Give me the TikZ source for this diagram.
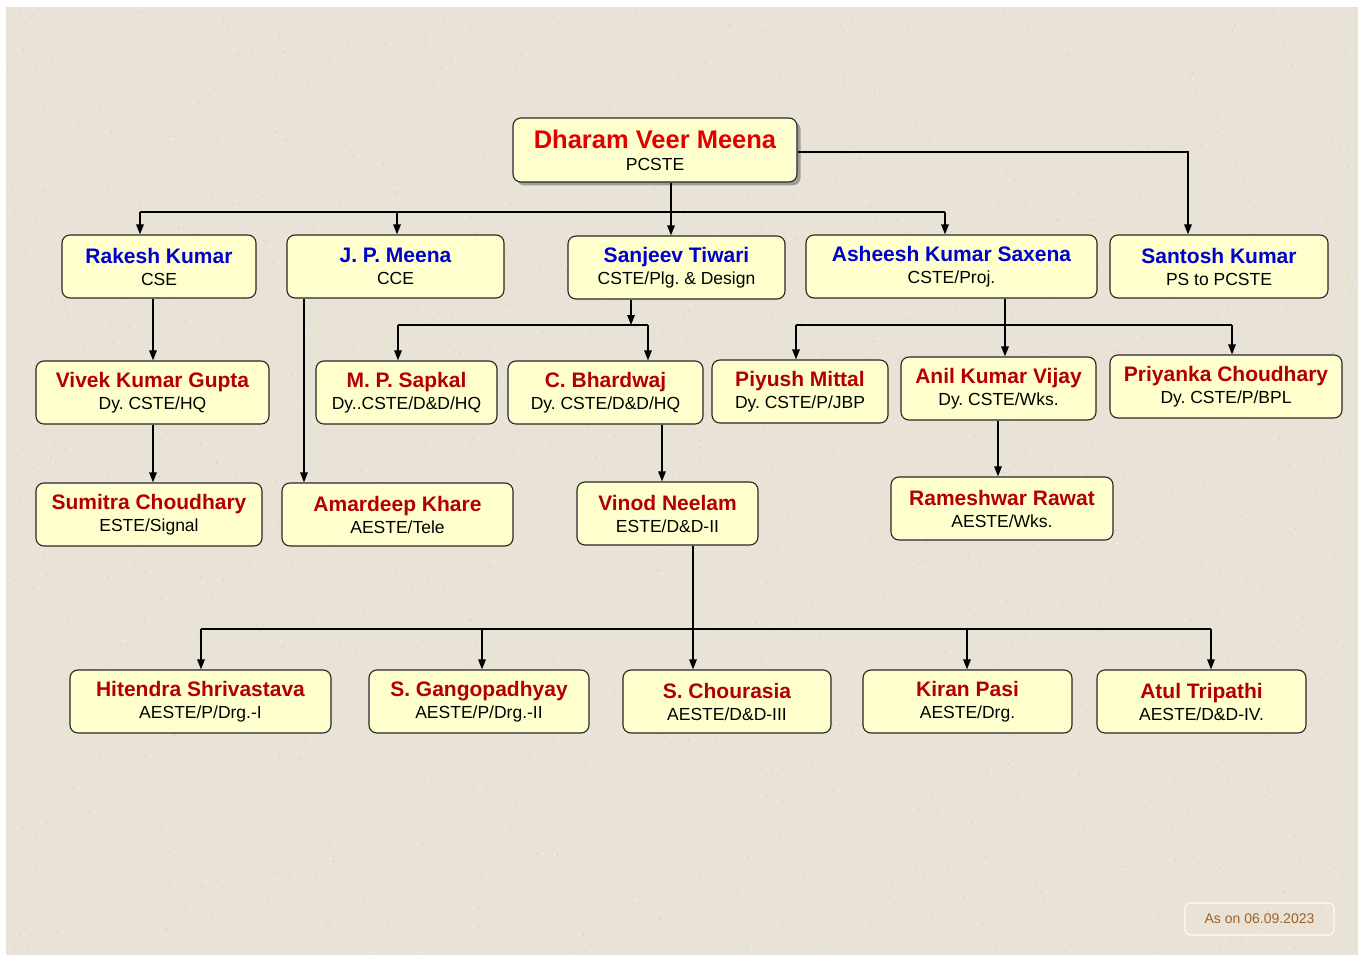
\documentclass[tikz,border=0pt]{standalone}
\usepackage{fontspec}
\setmainfont{Liberation Sans}
\usetikzlibrary{arrows.meta,shadows}
\definecolor{bgc}{RGB}{232,226,215}
\definecolor{bgdark}{RGB}{196,188,174}
\definecolor{boxfill}{RGB}{255,255,206}
\definecolor{nblue}{RGB}{0,0,204}
\definecolor{nred}{RGB}{178,0,0}
\definecolor{dvred}{RGB}{224,0,0}
\definecolor{datec}{RGB}{165,95,35}
\newcommand{\nmb}[1]{{\fontsize{21}{21}\selectfont\bfseries\color{nblue}#1}}
\newcommand{\nmr}[1]{{\fontsize{21}{21}\selectfont\bfseries\color{nred}#1}}
\tikzset{
  box/.style={draw=black!85, line width=1.1pt, fill=boxfill, rounded corners=8pt,
    minimum height=63pt, inner sep=0pt, align=center,
    font=\fontsize{17.5}{22}\selectfont\frenchspacing},
  conn/.style={line width=1.4pt, black},
  arr/.style={conn, -{Triangle[length=10pt,width=7.5pt]}},
}
\begin{document}
\frenchspacing
\begin{tikzpicture}[x=1pt,y=-1pt]
\useasboundingbox (0,0) rectangle (1358,955);
\fill[white] (0,0) rectangle (1358,955);
\fill[bgc] (6,7) rectangle (1358,955);
\pgfmathsetseed{11}
\foreach \i in {1,...,1400}{
  \pgfmathsetmacro{\px}{8+1348*rnd}
  \pgfmathsetmacro{\py}{9+944*rnd}
  \fill[bgdark,opacity=0.45] (\px,\py) circle (0.9);
}
\foreach \i in {1,...,900}{
  \pgfmathsetmacro{\px}{8+1348*rnd}
  \pgfmathsetmacro{\py}{9+944*rnd}
  \fill[white,opacity=0.5] (\px,\py) circle (1.0);
}

% top
\node[box, minimum width=284pt, minimum height=64pt,
  drop shadow={shadow xshift=3.5pt, shadow yshift=-3.5pt, fill=black!50, opacity=0.7}]
  (dv) at (655,150) {{\fontsize{25.5}{25.5}\selectfont\bfseries\color{dvred}Dharam Veer Meena}\\PCSTE};

% row 1
\node[box, minimum width=194pt] (rk) at (159,266.5) {\nmb{Rakesh Kumar}\\CSE};
\node[box, minimum width=217pt] (jp) at (395.5,266.5) {\nmb{J. P. Meena}\\CCE};
\node[box, minimum width=217pt] (sj) at (676.5,267.5) {\nmb{Sanjeev Tiwari}\\CSTE/Plg. \& Design};
\node[box, minimum width=291pt] (as) at (951.5,266.5) {\nmb{Asheesh Kumar Saxena}\\CSTE/Proj.};
\node[box, minimum width=218pt] (sk) at (1219,266.5) {\nmb{Santosh Kumar}\\PS to PCSTE};

% row 2
\node[box, minimum width=233pt] (vk) at (152.5,392.5) {\nmr{Vivek Kumar Gupta}\\Dy. CSTE/HQ};
\node[box, minimum width=181pt] (mp) at (406.5,392.5) {\nmr{M. P. Sapkal}\\Dy..CSTE/D\&D/HQ};
\node[box, minimum width=195pt] (cb) at (605.5,392.5) {\nmr{C. Bhardwaj}\\Dy. CSTE/D\&D/HQ};
\node[box, minimum width=176pt] (pm) at (800,391.5) {\nmr{Piyush Mittal}\\Dy. CSTE/P/JBP};
\node[box, minimum width=195pt] (av) at (998.5,388.5) {\nmr{Anil Kumar Vijay}\\Dy. CSTE/Wks.};
\node[box, minimum width=232pt] (pc) at (1226,386.5) {\nmr{Priyanka Choudhary}\\Dy. CSTE/P/BPL};

% row 3
\node[box, minimum width=226pt] (sc) at (149,514.5) {\nmr{Sumitra Choudhary}\\ESTE/Signal};
\node[box, minimum width=231pt] (ak) at (397.5,514.5) {\nmr{Amardeep Khare}\\AESTE/Tele};
\node[box, minimum width=181pt] (vn) at (667.5,513.5) {\nmr{Vinod Neelam}\\ESTE/D\&D-II};
\node[box, minimum width=222pt] (rr) at (1002,508.5) {\nmr{Rameshwar Rawat}\\AESTE/Wks.};

% row 4
\node[box, minimum width=261pt] (hs) at (200.5,701.5) {\nmr{Hitendra Shrivastava}\\AESTE/P/Drg.-I};
\node[box, minimum width=220pt] (sg) at (479,701.5) {\nmr{S. Gangopadhyay}\\AESTE/P/Drg.-II};
\node[box, minimum width=208pt] (ch) at (727,701.5) {\nmr{S. Chourasia}\\AESTE/D\&D-III};
\node[box, minimum width=209pt] (kp) at (967.5,701.5) {\nmr{Kiran Pasi}\\AESTE/Drg.};
\node[box, minimum width=209pt] (at) at (1201.5,701.5) {\nmr{Atul Tripathi}\\AESTE/D\&D-IV.};

% date label
\node[draw=white!90!bgc, line width=1.2pt, rounded corners=5pt, minimum width=149pt,
  minimum height=32pt, inner sep=0pt, text=datec, font=\fontsize{14}{14}\selectfont]
  (date) at (1259.5,919) {As on 06.09.2023};

% connectors: Dharam -> row 1
\coordinate (a1) at (140,212);
\coordinate (a2) at (397,212);
\coordinate (a3) at (671,212);
\coordinate (a4) at (945,212);
\draw[conn] (dv.south -| a3) -- (a3);
\draw[conn] (a1) -- (a4);
\draw[arr] (a1) -- (rk.north -| a1);
\draw[arr] (a2) -- (jp.north -| a2);
\draw[arr] (a3) -- (sj.north -| a3);
\draw[arr] (a4) -- (as.north -| a4);
\coordinate (s1) at (1188,152);
\draw[arr] (dv.east |- s1) -- (s1) -- (sk.north -| s1);

% Rakesh -> Vivek -> Sumitra
\coordinate (r1) at (153,330);
\draw[arr] (rk.south -| r1) -- (vk.north -| r1);
\draw[arr] (vk.south -| r1) -- (sc.north -| r1);

% JP -> Amardeep
\coordinate (j1) at (304,400);
\draw[arr] (jp.south -| j1) -- (ak.north -| j1);

% Sanjeev -> Sapkal, Bhardwaj
\coordinate (b0) at (631,325);
\coordinate (b1) at (398,325);
\coordinate (b2) at (648,325);
\draw[arr] (sj.south -| b0) -- (b0);
\draw[conn] (b1) -- (b2);
\draw[arr] (b1) -- (mp.north -| b1);
\draw[arr] (b2) -- (cb.north -| b2);

% Asheesh -> Piyush, Anil, Priyanka
\coordinate (c0) at (1005,325);
\coordinate (c1) at (796,325);
\coordinate (c2) at (1232,325);
\draw[conn] (as.south -| c0) -- (c0);
\draw[conn] (c1) -- (c2);
\draw[arr] (c1) -- (pm.north -| c1);
\draw[arr] (c0) -- (av.north -| c0);
\draw[arr] (c2) -- (pc.north -| c2);

% Bhardwaj -> Vinod
\coordinate (d1) at (662,450);
\draw[arr] (cb.south -| d1) -- (vn.north -| d1);

% Anil -> Rameshwar
\coordinate (e1) at (998,450);
\draw[arr] (av.south -| e1) -- (rr.north -| e1);

% Vinod -> row 4
\coordinate (f0) at (693,629);
\coordinate (f1) at (201,629);
\coordinate (f2) at (482,629);
\coordinate (f3) at (967,629);
\coordinate (f4) at (1211,629);
\draw[conn] (f1) -- (f4);
\draw[arr] (vn.south -| f0) -- (ch.north -| f0);
\draw[arr] (f1) -- (hs.north -| f1);
\draw[arr] (f2) -- (sg.north -| f2);
\draw[arr] (f3) -- (kp.north -| f3);
\draw[arr] (f4) -- (at.north -| f4);
\end{tikzpicture}
\end{document}
